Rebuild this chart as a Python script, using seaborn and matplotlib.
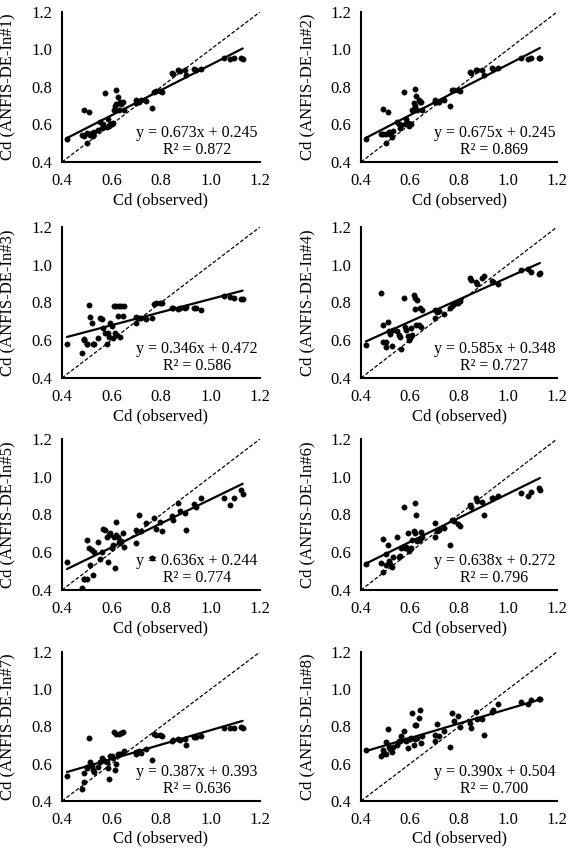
import numpy as np
import pandas as pd
import matplotlib
matplotlib.use("Agg")
import matplotlib.pyplot as plt
import seaborn as sns

# ---------------- data ----------------
cd_observed = [0.42, 0.48, 0.49, 0.49, 0.50, 0.50, 0.51, 0.515, 0.52, 0.525,
               0.53, 0.545, 0.555, 0.56, 0.565, 0.575, 0.58, 0.585, 0.59, 0.595,
               0.60, 0.605, 0.61, 0.615, 0.62, 0.62, 0.625, 0.63, 0.635, 0.64,
               0.645, 0.65, 0.70, 0.70, 0.71, 0.72, 0.74, 0.765, 0.77, 0.78,
               0.795, 0.805, 0.845, 0.85, 0.87, 0.875, 0.895, 0.90, 0.935, 0.94,
               0.96, 1.055, 1.08, 1.095, 1.125, 1.13]

pred_in1 = [0.525, 0.545, 0.678, 0.54, 0.50, 0.555, 0.665, 0.545, 0.555, 0.54,
            0.56, 0.57, 0.615, 0.58, 0.60, 0.77, 0.585, 0.63, 0.59, 0.605,
            0.60, 0.61, 0.675, 0.70, 0.785, 0.71, 0.745, 0.675, 0.72, 0.71,
            0.72, 0.675, 0.73, 0.715, 0.72, 0.73, 0.725, 0.69, 0.775, 0.78,
            0.78, 0.775, 0.876, 0.87, 0.888, 0.885, 0.889, 0.864, 0.894, 0.893,
            0.894, 0.952, 0.95, 0.952, 0.952, 0.95]
pred_in2 = [0.523, 0.548, 0.685, 0.55, 0.50, 0.548, 0.665, 0.56, 0.55, 0.535,
            0.565, 0.613, 0.60, 0.58, 0.595, 0.772, 0.60, 0.63, 0.61, 0.59,
            0.60, 0.605, 0.675, 0.715, 0.79, 0.70, 0.75, 0.675, 0.73, 0.72,
            0.72, 0.675, 0.73, 0.72, 0.72, 0.72, 0.73, 0.70, 0.785, 0.785,
            0.785, 0.78, 0.88, 0.875, 0.89, 0.89, 0.89, 0.865, 0.90, 0.895,
            0.90, 0.955, 0.95, 0.952, 0.955, 0.953]
pred_in3 = [0.578, 0.533, 0.605, 0.60, 0.578, 0.58, 0.786, 0.725, 0.693, 0.578,
            0.58, 0.613, 0.72, 0.71, 0.665, 0.64, 0.578, 0.64, 0.615, 0.693,
            0.675, 0.61, 0.78, 0.64, 0.78, 0.63, 0.73, 0.78, 0.615, 0.78,
            0.73, 0.78, 0.725, 0.693, 0.72, 0.72, 0.71, 0.72, 0.79, 0.80,
            0.795, 0.80, 0.77, 0.77, 0.765, 0.77, 0.77, 0.775, 0.77, 0.77,
            0.76, 0.832, 0.83, 0.825, 0.82, 0.82]
pred_in4 = [0.577, 0.85, 0.683, 0.59, 0.563, 0.59, 0.695, 0.65, 0.633, 0.568,
            0.656, 0.647, 0.63, 0.617, 0.553, 0.823, 0.67, 0.655, 0.62, 0.60,
            0.61, 0.666, 0.63, 0.84, 0.765, 0.826, 0.68, 0.815, 0.68, 0.77,
            0.67, 0.76, 0.76, 0.72, 0.75, 0.755, 0.74, 0.77, 0.78, 0.79,
            0.80, 0.81, 0.93, 0.92, 0.91, 0.90, 0.93, 0.94, 0.915, 0.91,
            0.90, 0.97, 0.975, 0.96, 0.95, 0.955]
pred_in5 = [0.55, 0.41, 0.46, 0.46, 0.663, 0.46, 0.62, 0.53, 0.61, 0.48,
            0.60, 0.655, 0.565, 0.60, 0.724, 0.72, 0.68, 0.55, 0.69, 0.70,
            0.62, 0.64, 0.68, 0.515, 0.76, 0.69, 0.68, 0.655, 0.65, 0.66,
            0.70, 0.627, 0.65, 0.72, 0.797, 0.71, 0.755, 0.57, 0.78, 0.725,
            0.76, 0.71, 0.79, 0.77, 0.86, 0.82, 0.81, 0.72, 0.855, 0.84,
            0.885, 0.89, 0.85, 0.885, 0.93, 0.91]
pred_in6 = [0.536, 0.541, 0.67, 0.495, 0.59, 0.53, 0.64, 0.555, 0.54, 0.52,
            0.573, 0.68, 0.573, 0.58, 0.624, 0.84, 0.624, 0.63, 0.70, 0.607,
            0.615, 0.62, 0.665, 0.71, 0.86, 0.70, 0.80, 0.66, 0.665, 0.67,
            0.705, 0.68, 0.68, 0.755, 0.715, 0.72, 0.73, 0.64, 0.77, 0.765,
            0.75, 0.74, 0.85, 0.84, 0.887, 0.87, 0.865, 0.80, 0.887, 0.89,
            0.90, 0.915, 0.90, 0.92, 0.94, 0.93]
pred_in7 = [0.533, 0.463, 0.55, 0.50, 0.578, 0.58, 0.74, 0.61, 0.59, 0.565,
            0.556, 0.58, 0.61, 0.63, 0.62, 0.614, 0.61, 0.575, 0.52, 0.64,
            0.643, 0.63, 0.77, 0.565, 0.76, 0.60, 0.65, 0.76, 0.655, 0.765,
            0.77, 0.67, 0.665, 0.65, 0.67, 0.66, 0.68, 0.62, 0.76, 0.755,
            0.755, 0.75, 0.72, 0.725, 0.735, 0.73, 0.735, 0.70, 0.745, 0.745,
            0.75, 0.79, 0.79, 0.79, 0.795, 0.79]
pred_in8 = [0.676, 0.64, 0.676, 0.655, 0.718, 0.653, 0.785, 0.69, 0.68, 0.665,
            0.69, 0.70, 0.72, 0.72, 0.748, 0.775, 0.73, 0.72, 0.685, 0.735,
            0.735, 0.74, 0.875, 0.70, 0.735, 0.81, 0.81, 0.74, 0.848, 0.887,
            0.71, 0.75, 0.757, 0.72, 0.815, 0.75, 0.775, 0.69, 0.87, 0.83,
            0.857, 0.80, 0.82, 0.79, 0.88, 0.84, 0.84, 0.757, 0.88, 0.89,
            0.92, 0.934, 0.92, 0.94, 0.947, 0.947]

model_labels = ["Cd (ANFIS-DE-In#1)", "Cd (ANFIS-DE-In#2)", "Cd (ANFIS-DE-In#3)",
                "Cd (ANFIS-DE-In#4)", "Cd (ANFIS-DE-In#5)", "Cd (ANFIS-DE-In#6)",
                "Cd (ANFIS-DE-In#7)", "Cd (ANFIS-DE-In#8)"]
predictions = [pred_in1, pred_in2, pred_in3, pred_in4,
               pred_in5, pred_in6, pred_in7, pred_in8]
slopes = [0.673, 0.675, 0.346, 0.585, 0.636, 0.638, 0.387, 0.390]
intercepts = [0.245, 0.245, 0.472, 0.348, 0.244, 0.272, 0.393, 0.504]
r_squared = ["0.872", "0.869", "0.586", "0.727", "0.774", "0.796", "0.636", "0.700"]
tick_values = [0.4, 0.6, 0.8, 1.0, 1.2]
x_label = "Cd (observed)"

# ---------------- style ----------------
sns.set_theme(style="white")
plt.rcParams['font.family'] = ['Liberation Serif', 'DejaVu Serif']

fig = plt.figure(figsize=(5.68, 8.5), dpi=100)
W, H = 568.0, 850.0
col_px = [(62, 260), (361, 557)]
row_px = [(12, 162), (227, 378), (439, 590), (652, 801)]

for i in range(8):
    r, c = divmod(i, 2)
    x0, x1 = col_px[c]
    top, bot = row_px[r]
    ax = fig.add_axes([x0 / W, 1 - bot / H, (x1 - x0) / W, (bot - top) / H])

    df = pd.DataFrame({"obs": cd_observed, "pred": predictions[i]})
    # 1:1 line
    ends = [tick_values[0], tick_values[-1]]
    ax.plot(ends, ends, ls=(0, (3, 1.6)), color="black", lw=0.9, zorder=2)
    sns.scatterplot(data=df, x="obs", y="pred", ax=ax, color="black",
                    s=15, edgecolor="black", linewidth=0.3, zorder=3, legend=False)
    xr = np.array([min(cd_observed), max(cd_observed)])
    ax.plot(xr, slopes[i] * xr + intercepts[i], color="black", lw=1.6, zorder=4)

    ax.set_xlim(0.4, 1.2)
    ax.set_ylim(0.4, 1.2)
    ax.set_xticks(tick_values)
    ax.set_yticks(tick_values)
    ax.set_xticklabels([f"{v:.1f}" for v in tick_values])
    ax.set_yticklabels([f"{v:.1f}" for v in tick_values])
    ax.tick_params(axis="both", length=0, labelsize=12, colors="black")
    ax.tick_params(axis="x", pad=8)
    ax.tick_params(axis="y", pad=7)
    for s in ["top", "right"]:
        ax.spines[s].set_visible(False)
    for s in ["left", "bottom"]:
        ax.spines[s].set_color("black")
        ax.spines[s].set_linewidth(1.5)
    ax.set_facecolor("white")
    ax.grid(False)

    ax.set_xlabel(x_label, fontsize=12, color="black")
    ax.set_ylabel(model_labels[i], fontsize=12, color="black")
    ax.xaxis.set_label_coords(0.5, -0.20)
    ax.yaxis.set_label_coords(-0.235, 0.5)

    eq = f"y = {slopes[i]:.3f}x + {intercepts[i]:.3f}\nR² = {r_squared[i]}"
    ax.text(0.945, 0.51, eq, ha="center", va="center", fontsize=11.5,
            color="black", linespacing=1.05, zorder=5)

fig.savefig("out.png", dpi=100, facecolor="white")
